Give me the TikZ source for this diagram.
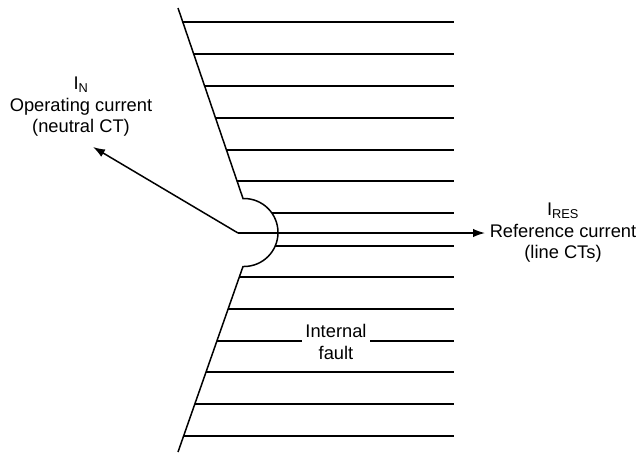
\documentclass[tikz,border=0pt]{standalone}
\usepackage{fontspec}
\setmainfont{Liberation Sans}
\usetikzlibrary{arrows.meta}
\begin{document}
\begin{tikzpicture}[x=1pt,y=-1pt,
  hatch/.style={line width=1.5pt},
  bound/.style={line width=1.5pt},
  arr/.style={line width=1.5pt,-{Latex[length=12pt,width=8.5pt]}},
  lbl/.style={font=\fontsize{18.3}{21.5}\selectfont,align=center,inner sep=0pt}]
\useasboundingbox (0,0) rectangle (639,453);
% boundary with arc
\coordinate (ut) at (178,8);
\coordinate (ub) at (243,198.5);
\coordinate (lb) at (243,266.5);
\coordinate (lt) at (178,452);
\draw[bound] (ut) -- (ub) -- (244,198.5) arc[start angle=-90,end angle=90,radius=34] -- (lb) -- (lt);
% upper hatch lines
\foreach \yy in {22,54,86,118,150,181}{
  \draw[hatch] ({178+0.3421*(\yy-8)},\yy) -- (454,\yy);
}
\draw[hatch] (272,213) -- (454,213);
\draw[hatch] (275,246) -- (454,246);
% lower hatch lines
\foreach \yy in {277,309,341,372,404,436}{
  \draw[hatch] ({243-0.3514*(\yy-267)},\yy) -- (454,\yy);
}
% labels
\node[lbl] (nlab) at (81,107) {I\textsubscript{N}\\Operating current\\(neutral CT)};
\node[lbl] (rlab) at (563,233) {I\textsubscript{RES}\\Reference current\\(line CTs)};
\node[lbl,fill=white,inner xsep=3pt,inner ysep=1pt] (flt) at (336,342) {Internal\\fault};
% arrows
\coordinate (o) at (238,233);
\coordinate (ntip) at (93,147);
\coordinate (rtip) at (485,233);
\draw[arr] (o) -- (ntip);
\draw[arr] (o) -- (rtip);
\end{tikzpicture}
\end{document}
